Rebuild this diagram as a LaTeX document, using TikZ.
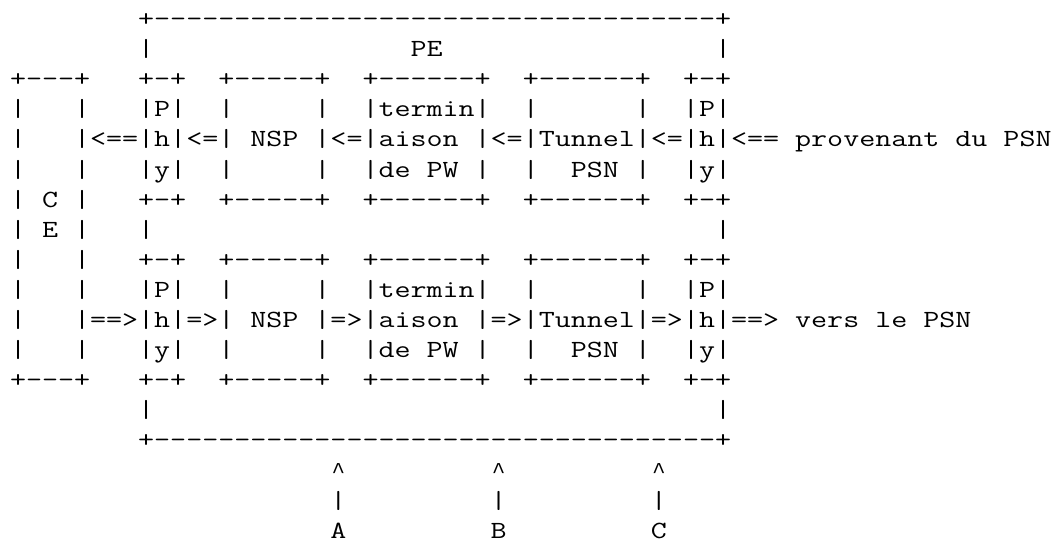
\documentclass[tikz,border=0pt]{standalone}
\usepackage{fontspec}
% slab-serif typewriter face, widened to a 12pt character pitch
\newfontfamily\asciimono{Latin Modern Mono}[FakeStretch=1.2614, Ligatures=TeXOff]
\newfontfamily\caretfont{Liberation Mono}
% one caret sign, kept to the 12pt pitch of the rows
\newcommand\caretmark{\makebox[12pt]{\caretfont\fontsize{17pt}{20pt}\selectfont\textasciicircum}}
\begin{document}
\begin{tikzpicture}[x=1pt,y=1pt,
  asciirow/.style={anchor=base west, inner sep=0pt, outer sep=0pt,
    font=\asciimono\fontsize{18.5pt}{22pt}\selectfont}]
% page frame (white background)
\fill[white] (0,0) rectangle (789,-408);
\useasboundingbox (0,0) rectangle (789,-408);
% each row of the drawing, one monospaced line per node
\def\rowy#1{\fpeval{-19.9-22.575*(#1-1)}}
\node[asciirow] (row1)  at (7.5,{\rowy{1}})  {~~~~~~~~+-----------------------------------+};
\node[asciirow] (row2)  at (7.5,{\rowy{2}})  {~~~~~~~~|~~~~~~~~~~~~~~~~PE~~~~~~~~~~~~~~~~~|};
\node[asciirow] (row3)  at (7.5,{\rowy{3}})  {+---+~~~+-+~~+-----+~~+------+~~+------+~~+-+};
\node[asciirow] (row4)  at (7.5,{\rowy{4}})  {|~~~|~~~|P|~~|~~~~~|~~|termin|~~|~~~~~~|~~|P|};
\node[asciirow] (row5)  at (7.5,{\rowy{5}})  {|~~~|<==|h|<=|~NSP~|<=|aison~|<=|Tunnel|<=|h|<==~provenant~du~PSN};
\node[asciirow] (row6)  at (7.5,{\rowy{6}})  {|~~~|~~~|y|~~|~~~~~|~~|de~PW~|~~|~~PSN~|~~|y|};
\node[asciirow] (row7)  at (7.5,{\rowy{7}})  {|~C~|~~~+-+~~+-----+~~+------+~~+------+~~+-+};
\node[asciirow] (row8)  at (7.5,{\rowy{8}})  {|~E~|~~~|~~~~~~~~~~~~~~~~~~~~~~~~~~~~~~~~~~~|};
\node[asciirow] (row9)  at (7.5,{\rowy{9}})  {|~~~|~~~+-+~~+-----+~~+------+~~+------+~~+-+};
\node[asciirow] (row10) at (7.5,{\rowy{10}}) {|~~~|~~~|P|~~|~~~~~|~~|termin|~~|~~~~~~|~~|P|};
\node[asciirow] (row11) at (7.5,{\rowy{11}}) {|~~~|==>|h|=>|~NSP~|=>|aison~|=>|Tunnel|=>|h|==>~vers~le~PSN};
\node[asciirow] (row12) at (7.5,{\rowy{12}}) {|~~~|~~~|y|~~|~~~~~|~~|de~PW~|~~|~~PSN~|~~|y|};
\node[asciirow] (row13) at (7.5,{\rowy{13}}) {+---+~~~+-+~~+-----+~~+------+~~+------+~~+-+};
\node[asciirow] (row14) at (7.5,{\rowy{14}}) {~~~~~~~~|~~~~~~~~~~~~~~~~~~~~~~~~~~~~~~~~~~~|};
\node[asciirow] (row15) at (7.5,{\rowy{15}}) {~~~~~~~~+-----------------------------------+};
\node[asciirow] (row16) at (7.5,{\rowy{16}}) {~~~~~~~~~~~~~~~~~~~~\caretmark~~~~~~~~~\caretmark~~~~~~~~~\caretmark};
\node[asciirow] (row17) at (7.5,{\rowy{17}}) {~~~~~~~~~~~~~~~~~~~~|~~~~~~~~~|~~~~~~~~~|};
\node[asciirow] (row18) at (7.5,{\rowy{18}}) {~~~~~~~~~~~~~~~~~~~~A~~~~~~~~~B~~~~~~~~~C};
\end{tikzpicture}
\end{document}
